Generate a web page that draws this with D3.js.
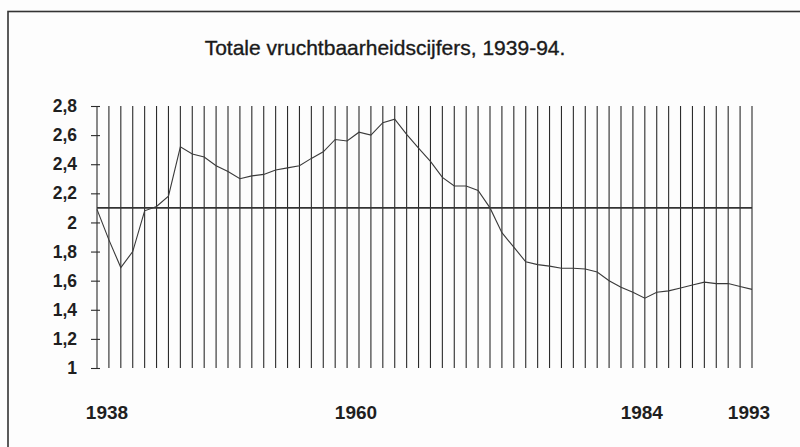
<!DOCTYPE html>
<html>
<head>
<meta charset="utf-8">
<script src="https://cdnjs.cloudflare.com/ajax/libs/d3/7.8.5/d3.min.js"></script>
<style>
  html, body { margin: 0; padding: 0; background: #fdfdfd; }
  svg { display: block; }
</style>
</head>
<body>
<div id="chart"></div>
<script>
// data
var title = "Totale vruchtbaarheidscijfers, 1939-94.";
var years = d3.range(1938, 1994);
var tfr = [
  2.09, 1.88, 1.69, 1.80, 2.08, 2.11, 2.18, 2.52, 2.47, 2.45,
  2.39, 2.35, 2.30, 2.32, 2.33, 2.36, 2.375, 2.39, 2.44, 2.485,
  2.57, 2.56, 2.62, 2.60, 2.685, 2.71, 2.605, 2.51, 2.42, 2.31,
  2.25, 2.25, 2.22, 2.10, 1.93, 1.83, 1.73, 1.71, 1.70, 1.685,
  1.685, 1.68, 1.66, 1.60, 1.555, 1.52, 1.48, 1.52, 1.53, 1.55,
  1.57, 1.59, 1.58, 1.58, 1.56, 1.54
];
var yTicks = [1, 1.2, 1.4, 1.6, 1.8, 2, 2.2, 2.4, 2.6, 2.8];
var yearLabels = [1938, 1960, 1984, 1993];
var replacement = 2.1;

var width = 800,
    height = 447;
var margin = {top: 106, left: 97, bottom: 79, right: 48};
var ink = "#2b2b2b";

var x = d3.scaleLinear()
    .domain([years[0], years[years.length - 1]])
    .range([margin.left, width - margin.right]);
var y = d3.scaleLinear()
    .domain([1, 2.8])
    .range([height - margin.bottom, margin.top]);

var svg = d3.select("#chart").append("svg")
    .attr("width", width)
    .attr("height", height);

// frame (cut off at right and bottom like the scan)
svg.append("rect")
    .attr("x", 8)
    .attr("y", 11.5)
    .attr("width", width + 20)
    .attr("height", height + 20)
    .attr("fill", "none")
    .attr("stroke", "#333")
    .attr("stroke-width", 1.6);

// title
svg.append("text")
    .attr("x", 385)
    .attr("y", 55)
    .attr("text-anchor", "middle")
    .attr("font-family", "Liberation Sans, Arial, sans-serif")
    .attr("font-size", "21px")
    .attr("fill", "#1a1a1a")
    .attr("stroke", "#1a1a1a")
    .attr("stroke-width", 0.35)
    .text(title);

// vertical year lines
svg.append("g").selectAll("line")
    .data(years)
  .enter().append("line")
    .attr("x1", function (d) { return x(d); })
    .attr("x2", function (d) { return x(d); })
    .attr("y1", y(2.8))
    .attr("y2", y(1))
    .attr("stroke", ink)
    .attr("stroke-width", 1.1);

// y axis
var yAxis = d3.axisLeft(y)
    .tickValues(yTicks)
    .tickSize(6)
    .tickPadding(14)
    .tickFormat(function (d) { return String(d3.format("~g")(d)).replace(".", ","); });

var gy = svg.append("g")
    .attr("transform", "translate(" + x(years[0]) + ",0)")
    .call(yAxis);
gy.select(".domain").remove();
gy.selectAll(".tick line")
    .attr("x1", 3)
    .attr("stroke", ink)
    .attr("stroke-width", 1.1);
gy.selectAll(".tick text")
    .attr("font-family", "Liberation Sans, Arial, sans-serif")
    .attr("font-weight", "bold")
    .attr("font-size", "17.5px")
    .attr("fill", "#1f1f1f");

// replacement level line
svg.append("line")
    .attr("x1", x(years[0]))
    .attr("x2", x(years[years.length - 1]))
    .attr("y1", y(replacement))
    .attr("y2", y(replacement))
    .attr("stroke", "#333")
    .attr("stroke-width", 1.8);

// fertility line
var line = d3.line()
    .x(function (d, i) { return x(years[i]); })
    .y(function (d) { return y(d); });

svg.append("path")
    .datum(tfr)
    .attr("d", line)
    .attr("fill", "none")
    .attr("stroke", "#3a3a3a")
    .attr("stroke-width", 1.1);

// year labels
svg.append("g").selectAll("text")
    .data(yearLabels)
  .enter().append("text")
    .attr("x", function (d, i) { return x(d) + (i === 0 ? 10 : -3); })
    .attr("y", 419)
    .attr("text-anchor", "middle")
    .attr("font-family", "Liberation Sans, Arial, sans-serif")
    .attr("font-weight", "bold")
    .attr("font-size", "19px")
    .attr("fill", "#1f1f1f")
    .text(function (d) { return d; });
</script>
</body>
</html>
